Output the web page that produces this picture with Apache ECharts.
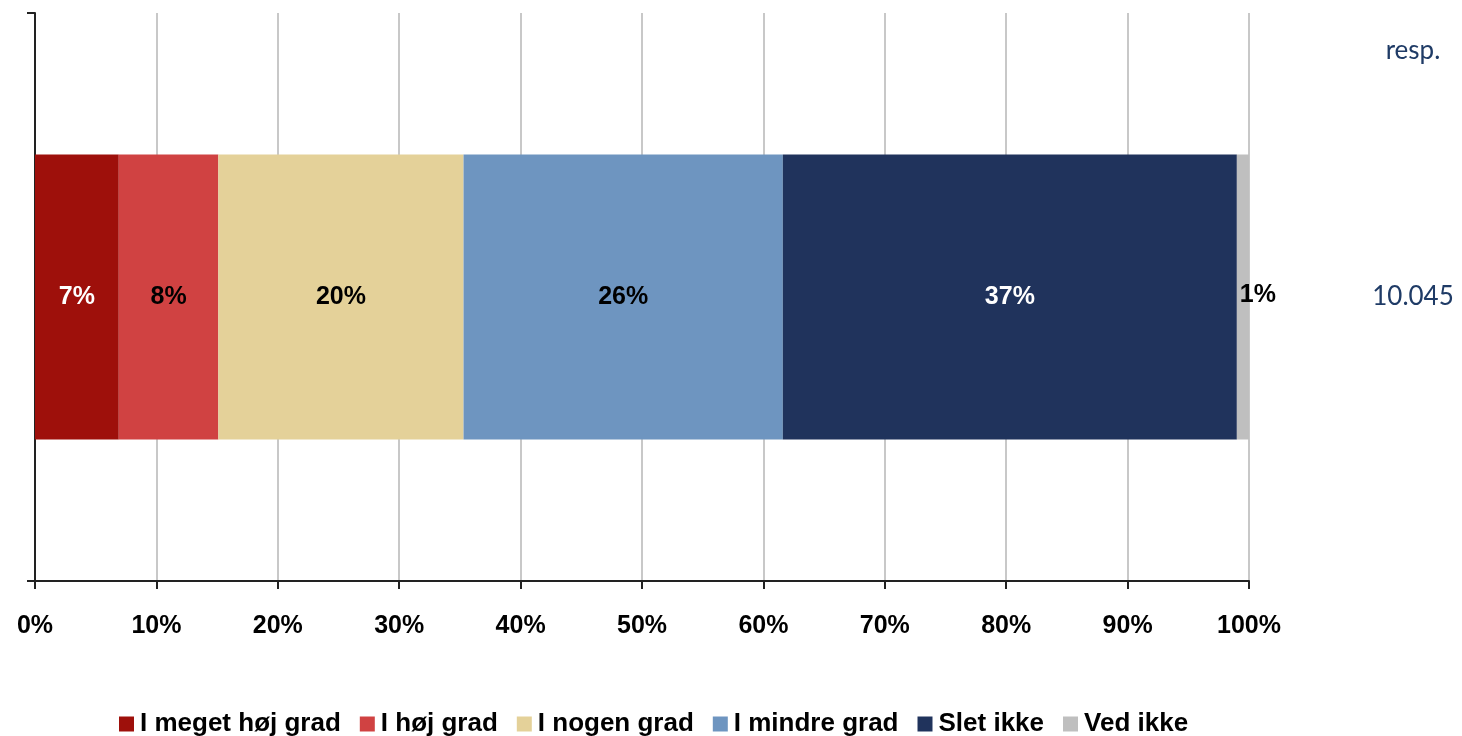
<!DOCTYPE html>
<html>
<head>
<meta charset="utf-8">
<script src="https://cdn.jsdelivr.net/npm/echarts@6/dist/echarts.min.js"></script>
<style>html,body{margin:0;padding:0;background:#fff}#c{width:1462px;height:736px}</style>
</head>
<body>
<div id="c"></div>
<script>
const categories = ['Total'];
const seriesNames = ['I meget høj grad', 'I høj grad', 'I nogen grad', 'I mindre grad', 'Slet ikke', 'Ved ikke'];
const seriesValues = [6.9, 8.2, 20.2, 26.3, 37.4, 1.0];
const seriesColors = ['#9E100B', '#D04242', '#E4D199', '#6E95C0', '#20335C', '#BFBFBF'];
const labelColors = ['#ffffff', '#000000', '#000000', '#000000', '#ffffff', '#000000'];
const respLabels = ['10.045'];
const xTicks = [0, 10, 20, 30, 40, 50, 60, 70, 80, 90, 100];

const FONT = "'Liberation Sans', Arial, sans-serif";
const chart = echarts.init(document.getElementById('c'));
chart.setOption({
  animation: false,
  grid: { left: 35, right: 213, top: 13, bottom: 155, containLabel: false },
  xAxis: {
    type: 'value', min: xTicks[0], max: xTicks[xTicks.length - 1], interval: 10,
    axisLine: { show: true, lineStyle: { color: '#222', width: 2 } },
    axisTick: { show: true, length: 8, lineStyle: { color: '#222', width: 2 } },
    axisLabel: { formatter: '{value}%', color: '#000', fontFamily: FONT, fontWeight: 'bold', fontSize: 25, margin: 33 },
    splitLine: { show: true, lineStyle: { color: '#C8C8C8', width: 2 } }
  },
  yAxis: [{
    type: 'category', data: categories, position: 'left',
    axisLine: { show: true, lineStyle: { color: '#222', width: 2 } },
    axisTick: { show: true, length: 8, lineStyle: { color: '#222', width: 2 } },
    axisLabel: { show: false }
  }, {
    type: 'category', data: respLabels, position: 'right', offset: 164,
    axisLine: { show: false }, axisTick: { show: false },
    axisLabel: { show: true, align: 'center', margin: 0, color: '#1F3B66', fontFamily: "Lato, 'Open Sans', sans-serif", fontSize: 26 },
    name: 'resp.', nameLocation: 'end', nameGap: -38,
    nameTextStyle: { align: 'center', verticalAlign: 'middle', color: '#1F3B66', fontFamily: "Lato, 'Open Sans', sans-serif", fontSize: 26 }
  }],
  legend: {
    left: 119, top: 711, padding: 0, itemWidth: 15, itemHeight: 15, itemGap: 19, icon: 'rect',
    textStyle: { color: '#000', fontFamily: FONT, fontWeight: 'bold', fontSize: 26, padding: [0, 0, 0, 1] },
    data: seriesNames
  },
  series: seriesNames.map((n, i) => ({
    name: n, type: 'bar', stack: 'total', barWidth: '50.2%', yAxisIndex: 0,
    itemStyle: { color: seriesColors[i] },
    label: {
      show: true, position: 'inside', offset: i === 5 ? [15, -2] : [0, 0],
      color: labelColors[i], fontFamily: FONT, fontWeight: 'bold', fontSize: 25,
      formatter: p => Math.round(p.value) + '%'
    },
    data: [seriesValues[i]]
  }))
});
</script>
</body>
</html>
